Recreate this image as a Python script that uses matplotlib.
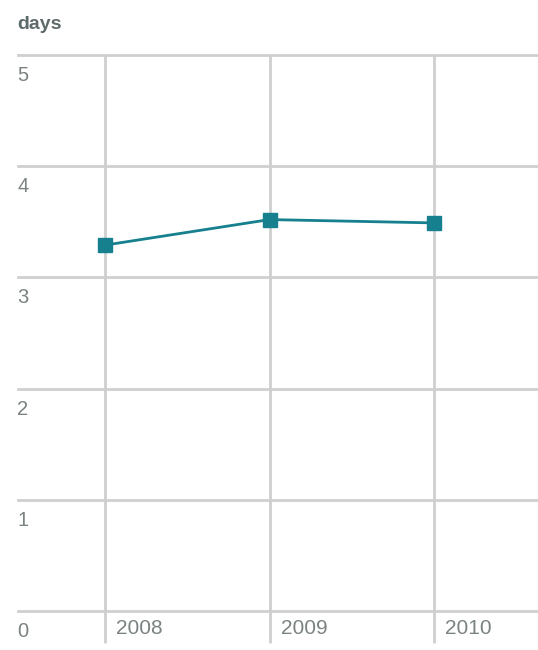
import matplotlib
matplotlib.use("Agg")
import matplotlib.pyplot as plt
import matplotlib.transforms as mtransforms

years = ["2008", "2009", "2010"]
days = [3.29, 3.52, 3.49]
yticks = [0, 1, 2, 3, 4, 5]

grid_col = "#cfcfcf"
text_col = "#7b8282"
line_col = "#16808f"

plt.rcParams["font.family"] = ["Liberation Sans", "DejaVu Sans"]

fig = plt.figure(figsize=(5.38, 6.5), dpi=100)
ax = fig.add_axes([18 / 538, 1 - 611 / 650, 1 - 18 / 538, (611 - 55) / 650])

xs = list(range(len(years)))
ax.set_xlim(-0.527, 2.63)
ax.set_ylim(0, 5)

for v in yticks:
    ax.axhline(v, color=grid_col, lw=2, zorder=1, clip_on=False)
for x in xs:
    ax.axvline(x, color=grid_col, lw=2, zorder=1)

ax.plot(xs, days, color=line_col, lw=2, marker="s", markersize=10, zorder=3)

ax.set_xticks(xs)
ax.set_xticklabels([])
ax.set_yticks([])
ax.tick_params(axis="x", length=23, width=2, color=grid_col, direction="out")
for s in ax.spines.values():
    s.set_visible(False)

# y labels under each gridline
off_y = mtransforms.offset_copy(ax.transData, fig=fig, x=-1, y=-26, units="dots")
for v in yticks:
    ax.text(-0.527, v, str(v), transform=off_y, ha="left", va="baseline",
            color=text_col, fontsize=14.5)

# x labels to the right of each vertical line
off_x = mtransforms.offset_copy(ax.transData, fig=fig, x=11, y=-23, units="dots")
for x, lab in zip(xs, years):
    ax.text(x, 0, lab, transform=off_x, ha="left", va="baseline",
            color=text_col, fontsize=15)

fig.text(17 / 538, 1 - 29 / 650, "days", ha="left", va="baseline",
         color="#5f6b6b", fontsize=14, fontweight="bold")

fig.savefig("out.png", dpi=100)
